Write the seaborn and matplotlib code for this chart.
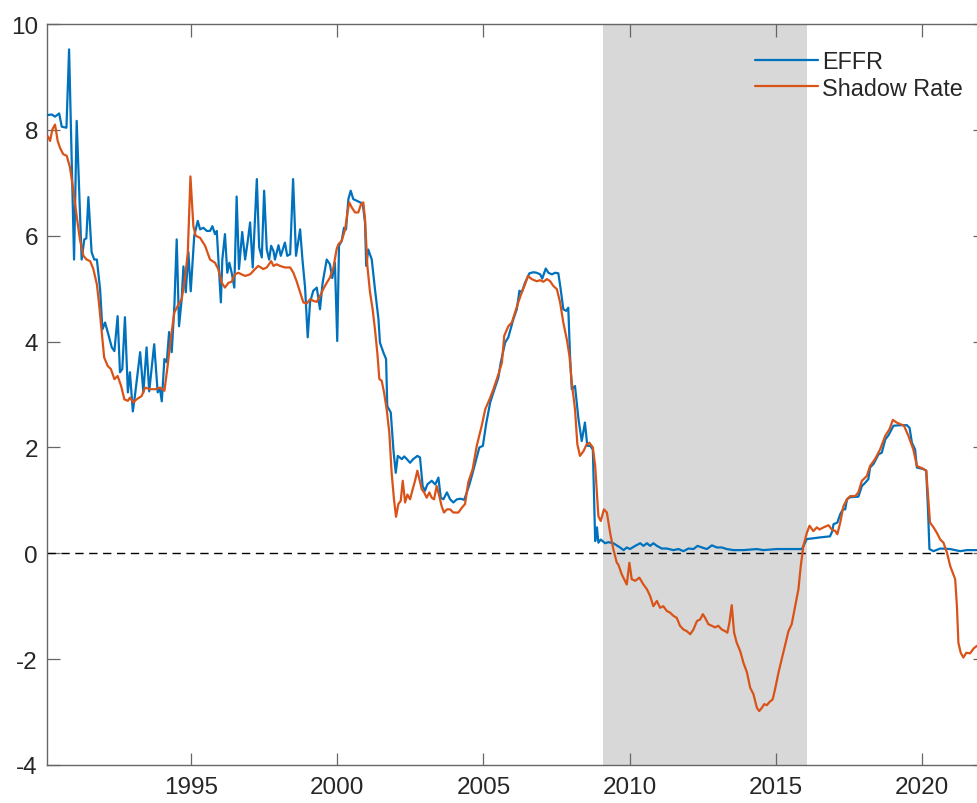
import numpy as np
import pandas as pd
import matplotlib
matplotlib.use("Agg")
import matplotlib.pyplot as plt
import seaborn as sns
from matplotlib.lines import Line2D

# Effective federal funds rate (EFFR), percent, by fractional year
effr_year = [
    1990.10, 1990.24, 1990.35, 1990.49, 1990.58, 1990.74, 1990.83, 1991.00, 1991.09, 1991.26,
    1991.35, 1991.42, 1991.49, 1991.60, 1991.69, 1991.78, 1991.89, 1991.97, 1992.06, 1992.17,
    1992.29, 1992.38, 1992.49, 1992.57, 1992.65, 1992.74, 1992.84, 1992.91, 1993.01, 1993.08,
    1993.26, 1993.37, 1993.48, 1993.57, 1993.74, 1993.86, 1993.94, 1994.00, 1994.09, 1994.17,
    1994.25, 1994.34, 1994.43, 1994.51, 1994.59, 1994.68, 1994.74, 1994.82, 1994.91, 1994.99,
    1995.11, 1995.23, 1995.31, 1995.42, 1995.54, 1995.65, 1995.73, 1995.82, 1995.88, 1995.93,
    1996.02, 1996.07, 1996.16, 1996.24, 1996.31, 1996.39, 1996.48, 1996.56, 1996.64, 1996.75,
    1996.85, 1996.94, 1997.02, 1997.11, 1997.25, 1997.33, 1997.42, 1997.50, 1997.59, 1997.67,
    1997.74, 1997.82, 1997.87, 1997.99, 1998.07, 1998.21, 1998.29, 1998.39, 1998.49, 1998.59,
    1998.73, 1998.81, 1998.90, 1998.99, 1999.07, 1999.18, 1999.30, 1999.41, 1999.50, 1999.64,
    1999.75, 1999.83, 1999.92, 2000.00, 2000.06, 2000.15, 2000.23, 2000.30, 2000.38, 2000.46,
    2000.55, 2000.67, 2000.78, 2000.87, 2000.95, 2000.99, 2001.06, 2001.18, 2001.29, 2001.41,
    2001.46, 2001.58, 2001.67, 2001.71, 2001.83, 2001.92, 2002.00, 2002.07, 2002.21, 2002.29,
    2002.38, 2002.49, 2002.60, 2002.74, 2002.83, 2002.92, 2003.00, 2003.08, 2003.23, 2003.35,
    2003.46, 2003.54, 2003.63, 2003.75, 2003.86, 2003.97, 2004.09, 2004.22, 2004.34, 2004.43,
    2004.52, 2004.63, 2004.77, 2004.86, 2004.98, 2005.09, 2005.23, 2005.34, 2005.51, 2005.59,
    2005.74, 2005.85, 2006.02, 2006.14, 2006.23, 2006.31, 2006.42, 2006.48, 2006.57, 2006.71,
    2006.82, 2006.94, 2007.01, 2007.13, 2007.22, 2007.34, 2007.45, 2007.56, 2007.64, 2007.73,
    2007.83, 2007.90, 2007.96, 2008.02, 2008.13, 2008.25, 2008.36, 2008.47, 2008.55, 2008.65,
    2008.74, 2008.82, 2008.88, 2008.93, 2009.01, 2009.16, 2009.27, 2009.44, 2009.67, 2009.79,
    2009.90, 2010.01, 2010.19, 2010.36, 2010.47, 2010.59, 2010.70, 2010.81, 2010.93, 2011.10,
    2011.27, 2011.49, 2011.67, 2011.84, 2012.01, 2012.18, 2012.32, 2012.47, 2012.64, 2012.81,
    2012.98, 2013.15, 2013.32, 2013.55, 2013.89, 2014.35, 2014.57, 2015.03, 2015.49, 2015.89,
    2016.06, 2016.23, 2016.51, 2016.85, 2016.93, 2016.97, 2017.10, 2017.20, 2017.29, 2017.37,
    2017.43, 2017.54, 2017.82, 2017.94, 2018.05, 2018.16, 2018.22, 2018.34, 2018.51, 2018.62,
    2018.74, 2018.85, 2019.02, 2019.25, 2019.48, 2019.57, 2019.65, 2019.76, 2019.82, 2020.05,
    2020.14, 2020.20, 2020.25, 2020.39, 2020.62, 2020.96, 2021.30, 2021.53, 2021.87, 2022.00,
]
effr_rate = [
    8.28, 8.29, 8.25, 8.31, 8.06, 8.04, 9.52, 5.55, 8.17, 5.55,
    5.93, 5.95, 6.73, 5.69, 5.55, 5.55, 4.99, 4.23, 4.36, 4.14,
    3.89, 3.82, 4.48, 3.42, 3.48, 4.46, 3.04, 3.42, 2.68, 2.97,
    3.80, 3.04, 3.89, 3.06, 3.95, 3.04, 3.10, 2.87, 3.67, 3.61,
    4.18, 3.80, 4.67, 5.93, 4.29, 4.80, 5.42, 4.93, 5.69, 4.95,
    6.00, 6.28, 6.12, 6.15, 6.09, 6.09, 6.18, 6.03, 6.09, 5.62,
    4.74, 5.55, 6.03, 5.30, 5.49, 5.30, 5.02, 6.74, 5.37, 6.07,
    5.55, 5.90, 6.25, 5.40, 7.07, 5.78, 5.59, 6.85, 5.74, 5.55,
    5.81, 5.71, 5.55, 5.82, 5.62, 5.87, 5.62, 5.65, 7.07, 5.62,
    6.12, 5.55, 5.02, 4.08, 4.74, 4.96, 5.02, 4.61, 5.11, 5.55,
    5.46, 5.20, 5.49, 4.01, 5.81, 5.90, 6.15, 6.12, 6.69, 6.85,
    6.69, 6.66, 6.63, 6.61, 6.25, 5.43, 5.74, 5.55, 4.99, 4.42,
    3.98, 3.79, 3.67, 2.78, 2.66, 1.96, 1.52, 1.84, 1.78, 1.83,
    1.78, 1.71, 1.78, 1.84, 1.81, 1.27, 1.18, 1.30, 1.37, 1.30,
    1.43, 1.05, 1.02, 1.15, 1.02, 0.96, 1.02, 1.03, 1.01, 1.15,
    1.30, 1.52, 1.81, 2.00, 2.03, 2.44, 2.85, 3.04, 3.32, 3.60,
    3.98, 4.08, 4.42, 4.61, 4.96, 4.93, 5.11, 5.18, 5.29, 5.31,
    5.30, 5.27, 5.19, 5.38, 5.30, 5.27, 5.30, 5.29, 4.99, 4.61,
    4.58, 4.64, 3.73, 3.10, 3.16, 2.53, 2.12, 2.47, 2.03, 2.03,
    1.96, 0.23, 0.49, 0.20, 0.26, 0.19, 0.21, 0.19, 0.11, 0.06,
    0.11, 0.08, 0.14, 0.19, 0.14, 0.19, 0.14, 0.19, 0.14, 0.09,
    0.09, 0.06, 0.08, 0.04, 0.09, 0.08, 0.14, 0.11, 0.08, 0.15,
    0.11, 0.11, 0.08, 0.06, 0.06, 0.08, 0.06, 0.08, 0.08, 0.08,
    0.27, 0.28, 0.30, 0.32, 0.42, 0.55, 0.58, 0.74, 0.83, 0.83,
    1.02, 1.06, 1.07, 1.27, 1.33, 1.40, 1.62, 1.69, 1.87, 1.90,
    2.15, 2.23, 2.41, 2.42, 2.42, 2.37, 2.09, 1.96, 1.62, 1.59,
    1.56, 0.83, 0.08, 0.04, 0.09, 0.08, 0.04, 0.06, 0.06, 0.08,
]

# Shadow short rate, percent, by fractional year
shadow_year = [
    1990.10, 1990.18, 1990.26, 1990.35, 1990.44, 1990.52, 1990.63, 1990.75, 1990.86, 1990.97,
    1991.09, 1991.20, 1991.32, 1991.43, 1991.55, 1991.66, 1991.78, 1991.85, 1991.95, 1992.03,
    1992.15, 1992.26, 1992.38, 1992.49, 1992.61, 1992.72, 1992.84, 1992.91, 1993.03, 1993.14,
    1993.31, 1993.43, 1993.60, 1993.77, 1993.94, 1994.09, 1994.20, 1994.32, 1994.43, 1994.57,
    1994.68, 1994.79, 1994.89, 1994.98, 1995.08, 1995.16, 1995.31, 1995.48, 1995.65, 1995.82,
    1995.93, 1996.05, 1996.16, 1996.28, 1996.39, 1996.50, 1996.62, 1996.73, 1996.85, 1997.02,
    1997.19, 1997.30, 1997.47, 1997.59, 1997.74, 1997.82, 1997.93, 1998.04, 1998.21, 1998.39,
    1998.50, 1998.61, 1998.73, 1998.84, 1998.96, 1999.07, 1999.18, 1999.30, 1999.41, 1999.52,
    1999.64, 1999.75, 1999.87, 1999.98, 2000.04, 2000.15, 2000.27, 2000.35, 2000.41, 2000.50,
    2000.61, 2000.72, 2000.81, 2000.89, 2000.95, 2001.03, 2001.12, 2001.21, 2001.29, 2001.37,
    2001.44, 2001.52, 2001.60, 2001.69, 2001.78, 2001.86, 2001.94, 2002.01, 2002.09, 2002.17,
    2002.24, 2002.32, 2002.40, 2002.49, 2002.58, 2002.66, 2002.74, 2002.81, 2002.89, 2002.97,
    2003.06, 2003.15, 2003.23, 2003.31, 2003.40, 2003.49, 2003.57, 2003.65, 2003.75, 2003.86,
    2003.97, 2004.14, 2004.26, 2004.37, 2004.48, 2004.63, 2004.77, 2004.94, 2005.06, 2005.23,
    2005.34, 2005.51, 2005.63, 2005.71, 2005.85, 2005.97, 2006.08, 2006.19, 2006.31, 2006.42,
    2006.52, 2006.65, 2006.82, 2006.94, 2007.05, 2007.17, 2007.28, 2007.39, 2007.51, 2007.62,
    2007.73, 2007.85, 2007.94, 2008.02, 2008.13, 2008.21, 2008.30, 2008.42, 2008.53, 2008.62,
    2008.74, 2008.82, 2008.93, 2009.01, 2009.12, 2009.22, 2009.33, 2009.44, 2009.56, 2009.61,
    2009.73, 2009.90, 2009.99, 2010.07, 2010.19, 2010.33, 2010.47, 2010.59, 2010.70, 2010.81,
    2010.93, 2011.04, 2011.15, 2011.27, 2011.38, 2011.49, 2011.61, 2011.72, 2011.84, 2011.95,
    2012.07, 2012.18, 2012.30, 2012.41, 2012.50, 2012.58, 2012.69, 2012.81, 2012.92, 2013.03,
    2013.15, 2013.26, 2013.34, 2013.41, 2013.49, 2013.57, 2013.66, 2013.78, 2013.89, 2014.01,
    2014.12, 2014.23, 2014.35, 2014.43, 2014.52, 2014.60, 2014.69, 2014.78, 2014.89, 2014.97,
    2015.09, 2015.20, 2015.32, 2015.43, 2015.54, 2015.66, 2015.77, 2015.85, 2015.94, 2016.06,
    2016.15, 2016.28, 2016.40, 2016.49, 2016.63, 2016.80, 2016.91, 2017.03, 2017.10, 2017.20,
    2017.31, 2017.43, 2017.54, 2017.71, 2017.82, 2017.94, 2018.11, 2018.22, 2018.39, 2018.56,
    2018.74, 2018.88, 2019.00, 2019.13, 2019.25, 2019.38, 2019.53, 2019.70, 2019.82, 2019.99,
    2020.14, 2020.27, 2020.39, 2020.50, 2020.62, 2020.73, 2020.85, 2020.96, 2021.13, 2021.19,
    2021.24, 2021.32, 2021.41, 2021.51, 2021.64, 2021.76, 2021.87, 2022.00,
]
shadow_rate = [
    7.88, 7.79, 8.01, 8.10, 7.79, 7.66, 7.54, 7.51, 7.29, 6.88,
    6.37, 5.93, 5.62, 5.55, 5.52, 5.37, 5.08, 4.74, 4.17, 3.70,
    3.54, 3.48, 3.29, 3.35, 3.16, 2.91, 2.88, 2.94, 2.85, 2.91,
    2.97, 3.13, 3.10, 3.10, 3.13, 3.07, 3.54, 4.11, 4.55, 4.70,
    4.80, 5.18, 5.68, 7.12, 6.18, 6.00, 5.96, 5.81, 5.55, 5.49,
    5.37, 5.11, 5.02, 5.11, 5.13, 5.27, 5.30, 5.27, 5.24, 5.27,
    5.37, 5.43, 5.37, 5.40, 5.52, 5.43, 5.46, 5.43, 5.40, 5.40,
    5.30, 5.14, 4.93, 4.74, 4.72, 4.80, 4.77, 4.75, 4.86, 4.99,
    5.11, 5.21, 5.40, 5.75, 5.84, 5.90, 6.12, 6.44, 6.63, 6.53,
    6.44, 6.44, 6.59, 6.63, 6.31, 5.43, 4.93, 4.61, 4.23, 3.79,
    3.29, 3.26, 3.04, 2.72, 2.28, 1.52, 1.02, 0.69, 0.93, 0.99,
    1.37, 0.96, 1.11, 1.02, 1.21, 1.37, 1.56, 1.40, 1.21, 1.15,
    1.05, 1.15, 1.05, 1.02, 1.27, 1.08, 0.89, 0.77, 0.83, 0.83,
    0.77, 0.77, 0.86, 0.93, 1.34, 1.59, 2.03, 2.41, 2.72, 2.94,
    3.10, 3.38, 3.60, 4.11, 4.29, 4.36, 4.55, 4.74, 4.93, 5.08,
    5.24, 5.18, 5.14, 5.16, 5.13, 5.18, 5.14, 5.05, 4.99, 4.74,
    4.36, 4.04, 3.73, 3.23, 2.72, 2.06, 1.84, 1.93, 2.06, 2.09,
    2.00, 1.65, 0.70, 0.61, 0.83, 0.77, 0.39, 0.08, -0.18, -0.21,
    -0.40, -0.59, -0.18, -0.49, -0.52, -0.46, -0.59, -0.68, -0.81, -1.00,
    -0.90, -1.03, -1.00, -1.09, -1.12, -1.18, -1.22, -1.37, -1.44, -1.47,
    -1.53, -1.44, -1.28, -1.25, -1.15, -1.22, -1.34, -1.37, -1.40, -1.37,
    -1.44, -1.47, -1.50, -1.31, -0.98, -1.50, -1.69, -1.85, -2.07, -2.25,
    -2.54, -2.66, -2.92, -2.98, -2.92, -2.85, -2.87, -2.81, -2.76, -2.57,
    -2.25, -2.00, -1.72, -1.47, -1.34, -1.00, -0.68, -0.24, 0.14, 0.39,
    0.52, 0.42, 0.49, 0.45, 0.49, 0.53, 0.45, 0.42, 0.36, 0.58,
    0.89, 1.02, 1.08, 1.08, 1.15, 1.37, 1.46, 1.65, 1.78, 1.96,
    2.22, 2.34, 2.52, 2.47, 2.44, 2.41, 2.22, 1.96, 1.65, 1.61,
    1.56, 0.58, 0.49, 0.39, 0.26, 0.20, 0.01, -0.24, -0.49, -1.00,
    -1.69, -1.88, -1.97, -1.88, -1.89, -1.80, -1.75, -1.72,
]

series_names = ["EFFR", "Shadow Rate"]
series_colors = ["#0072BD", "#D95319"]
zlb_span = (2009.10, 2016.07)
y_ticks = [-4, -2, 0, 2, 4, 6, 8, 10]
x_ticks = [1995, 2000, 2005, 2010, 2015, 2020]

df = pd.concat([
    pd.DataFrame({"year": effr_year, "rate": effr_rate, "series": series_names[0]}),
    pd.DataFrame({"year": shadow_year, "rate": shadow_rate, "series": series_names[1]}),
], ignore_index=True)

sns.set_style("ticks")
plt.rcParams["font.family"] = ["Liberation Sans", "DejaVu Sans"]
plt.rcParams["axes.unicode_minus"] = False

W, H = 977, 804
fig = plt.figure(figsize=(W / 100, H / 100), dpi=100)
left_px, right_px, top_px, bottom_px = 47, 985, 25, 766
ax = fig.add_axes([left_px / W, 1 - bottom_px / H,
                   (right_px - left_px) / W, (bottom_px - top_px) / H])

ax.axvspan(*zlb_span, color="#D8D8D8", lw=0, zorder=0)
ax.axhline(0, color="black", lw=1.0, ls=(0, (6, 4)), zorder=1)

sns.lineplot(data=df, x="year", y="rate", hue="series", hue_order=series_names,
             palette=series_colors, estimator=None, lw=1.6, ax=ax, legend=False,
             zorder=3)

ax.set_xlim(1990.075, 2022.15)
ax.set_ylim(-4, 10)
ax.set_xticks(x_ticks)
ax.set_yticks(y_ticks)
ax.set_xlabel("")
ax.set_ylabel("")

for side in ["left", "bottom", "top", "right"]:
    ax.spines[side].set_visible(True)
    ax.spines[side].set_color("#666666")
    ax.spines[side].set_linewidth(1.0)
ax.tick_params(direction="in", length=9, width=0.9, color="#666666",
               labelsize=17.5, labelcolor="#262626",
               top=True, right=True)
ax.tick_params(axis="x", pad=8)
ax.tick_params(axis="y", pad=6.5)

handles = [Line2D([], [], color=c, lw=1.6) for c in series_colors]
ax.legend(handles, series_names, loc="upper right", frameon=False,
          bbox_to_anchor=(963 / W, 1 - 51 / H), bbox_transform=fig.transFigure,
          fontsize=16.8, handlelength=2.7, handletextpad=0.2,
          labelspacing=0.15, borderpad=0, borderaxespad=0)

fig.savefig("out.png", dpi=100)
